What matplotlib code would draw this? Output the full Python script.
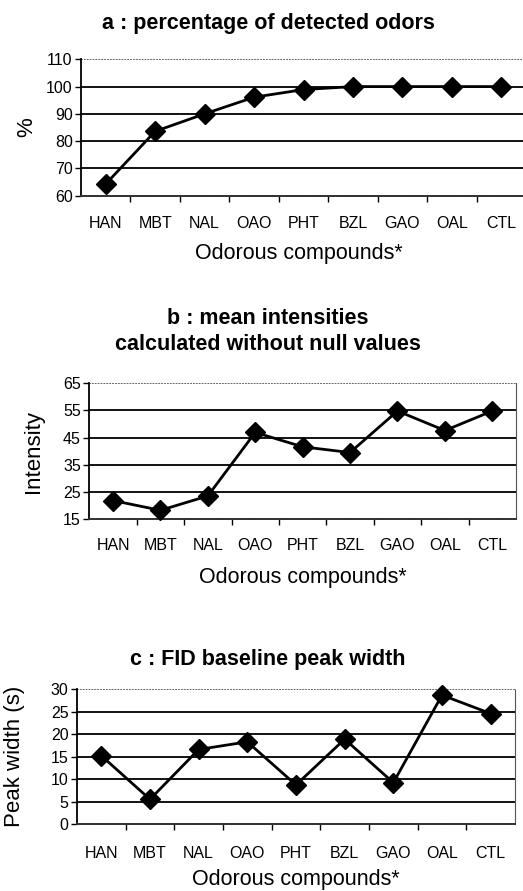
import matplotlib
matplotlib.use("Agg")
import matplotlib.pyplot as plt
from matplotlib.ticker import FixedLocator

plt.rcParams['font.family'] = ['Liberation Sans', 'DejaVu Sans']

categories = ["HAN", "MBT", "NAL", "OAO", "PHT", "BZL", "GAO", "OAL", "CTL"]
pct_detected = [64.3, 83.6, 90.0, 96.1, 98.9, 100, 100, 100, 100]
mean_intensity = [21.8, 18.2, 23.5, 46.9, 41.6, 39.5, 54.8, 47.6, 54.8]
peak_width = [15.2, 5.5, 16.6, 18.3, 8.7, 18.9, 9.2, 28.7, 24.6]

W, H = 523, 891
fig = plt.figure(figsize=(W / 100, H / 100), dpi=100)

def ax_at(left, right, top, bottom):
    return fig.add_axes([left / W, 1 - bottom / H, (right - left) / W, (bottom - top) / H])

panels = [
    dict(box=(81, 526, 59.3, 195.7), data=pct_detected, yt=[60, 70, 80, 90, 100, 110],
         ylabel="%", ylx=27, title=["a : percentage of detected odors"], ty=[24],
         tickrow=218, xly=254, rightspine=False),
    dict(box=(89.3, 516, 383.3, 519), data=mean_intensity, yt=[15, 25, 35, 45, 55, 65],
         ylabel="Intensity", ylx=33, title=["b : mean intensities", "calculated without null values"],
         ty=[319, 345], tickrow=541, xly=577, rightspine=True),
    dict(box=(77, 515, 689.3, 824), data=peak_width, yt=[0, 5, 10, 15, 20, 25, 30],
         ylabel="Peak width (s)", ylx=15, title=["c : FID baseline peak width"], ty=[660],
         tickrow=848, xly=879, rightspine=True),
]

x = list(range(len(categories)))
for p in panels:
    l, r, t, b = p["box"]
    ax = ax_at(l, r, t, b)
    yt = p["yt"]
    ax.set_xlim(-0.5, len(categories) - 0.5)
    ax.set_ylim(yt[0], yt[-1])
    for v in yt[1:-1]:
        ax.axhline(v, color="black", lw=1.3, zorder=1)
    ax.axhline(yt[-1], color="#555555", lw=1.3, ls=(0, (1, 0.6)), zorder=1)
    ax.plot(x, p["data"], color="black", lw=2.0, marker="D", ms=10,
            markerfacecolor="black", markeredgecolor="black", zorder=3, clip_on=False)
    ax.spines["top"].set_visible(False)
    ax.spines["right"].set_visible(p["rightspine"])
    ax.spines["right"].set_color("#555555")
    ax.spines["right"].set_linestyle((0, (1, 0.6)))
    ax.spines["bottom"].set_color("#333333")
    ax.spines["bottom"].set_linestyle((0, (1, 0.5)))
    ax.spines["bottom"].set_linewidth(1.4)
    ax.spines["left"].set_linewidth(1.3)
    ax.set_yticks(yt)
    ax.set_yticklabels([str(v) for v in yt], fontsize=11.5)
    ax.tick_params(axis="y", length=4, width=1, pad=2, direction="out")
    ax.set_xticks(x)
    ax.set_xticklabels(categories, fontsize=11.5)
    ax.xaxis.set_minor_locator(FixedLocator([i + 0.5 for i in range(len(categories) - 1)]))
    ax.tick_params(axis="x", which="major", length=0, pad=(p["tickrow"] - b) - 8)
    ax.tick_params(axis="x", which="minor", length=4, width=1, direction="out")
    fig.text(p["ylx"] / W, 1 - ((t + b) / 2) / H, p["ylabel"], rotation=90,
             ha="center", va="center", fontsize=16)
    fig.text(((l + min(r, 516)) / 2) / W, 1 - p["xly"] / H, "Odorous compounds*",
             ha="center", va="center", fontsize=15.5)
    for txt, yy in zip(p["title"], p["ty"]):
        fig.text(268 / W, 1 - yy / H, txt, ha="center", va="center",
                 fontsize=15.5, fontweight="bold")

fig.savefig("out.png", dpi=100)
